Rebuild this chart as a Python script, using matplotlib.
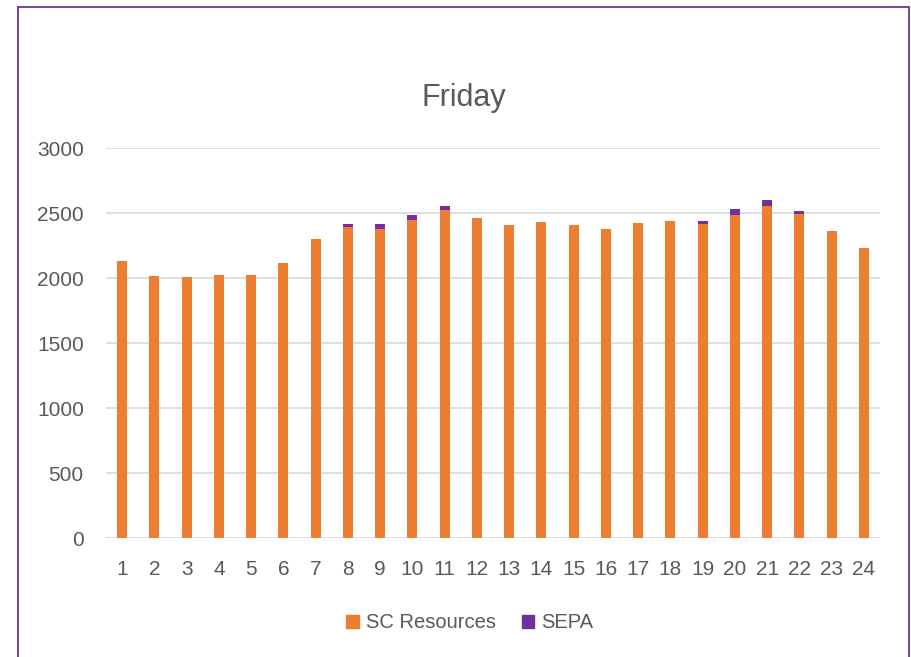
import matplotlib
matplotlib.use("Agg")
import matplotlib.pyplot as plt
from matplotlib.patches import Rectangle, Patch
import numpy as np

hours = [str(i) for i in range(1, 25)]
sc_resources = [2128, 2018, 2010, 2023, 2023, 2118, 2302, 2395, 2374, 2448, 2525, 2461,
                2410, 2428, 2410, 2374, 2425, 2438, 2413, 2484, 2554, 2494, 2361, 2228]
sepa = [0, 0, 0, 0, 0, 0, 0, 23, 40, 36, 26, 0,
        0, 0, 0, 0, 0, 0, 25, 44, 43, 23, 0, 0]
yticks = [0, 500, 1000, 1500, 2000, 2500, 3000]

orange = "#ED7D31"
purple = "#7030A0"
grey_text = "#595959"

plt.rcParams['font.family'] = ['Liberation Sans', 'DejaVu Sans']

fig = plt.figure(figsize=(9.12, 6.57), dpi=100)
ax = fig.add_axes([0.1162, 0.1811, 0.8488, 0.5936])

x = np.arange(len(hours))
w = 0.31
ax.bar(x, sc_resources, width=w, color=orange, label="SC Resources", zorder=3)
ax.bar(x, sepa, width=w, bottom=sc_resources, color=purple, label="SEPA", zorder=3)

ax.set_xlim(-0.5, len(hours) - 0.5)
ax.set_ylim(0, 3000)
ax.set_yticks(yticks)
ax.set_yticklabels([str(v) for v in yticks])
ax.set_xticks(x)
ax.set_xticklabels(hours)
ax.grid(axis='y', color='#d9d9d9', linewidth=1.2, zorder=0)
for s in ax.spines.values():
    s.set_visible(False)
ax.tick_params(axis='both', length=0, labelsize=15, colors=grey_text)
ax.tick_params(axis='x', pad=16)
ax.tick_params(axis='y', pad=16)

fig.text(0.509, 1 - 106 / 657, "Friday", ha='center', va='baseline', fontsize=22, color=grey_text)

handles = [Patch(color=orange), Patch(color=purple)]
leg = fig.legend(handles, ["SC Resources", "SEPA"], loc='center', bbox_to_anchor=(0.515, 0.052),
                 ncol=2, frameon=False, fontsize=14.5, handlelength=0.6, handleheight=0.6,
                 columnspacing=1.3, handletextpad=0.35)
for t in leg.get_texts():
    t.set_color(grey_text)

fig.patches.append(Rectangle((18 / 912, -0.01), (909 - 18) / 912, 1 - 7 / 657 + 0.01,
                             transform=fig.transFigure, fill=False, edgecolor=purple,
                             linewidth=1.3, clip_on=False))

fig.savefig("out.png", dpi=100)
